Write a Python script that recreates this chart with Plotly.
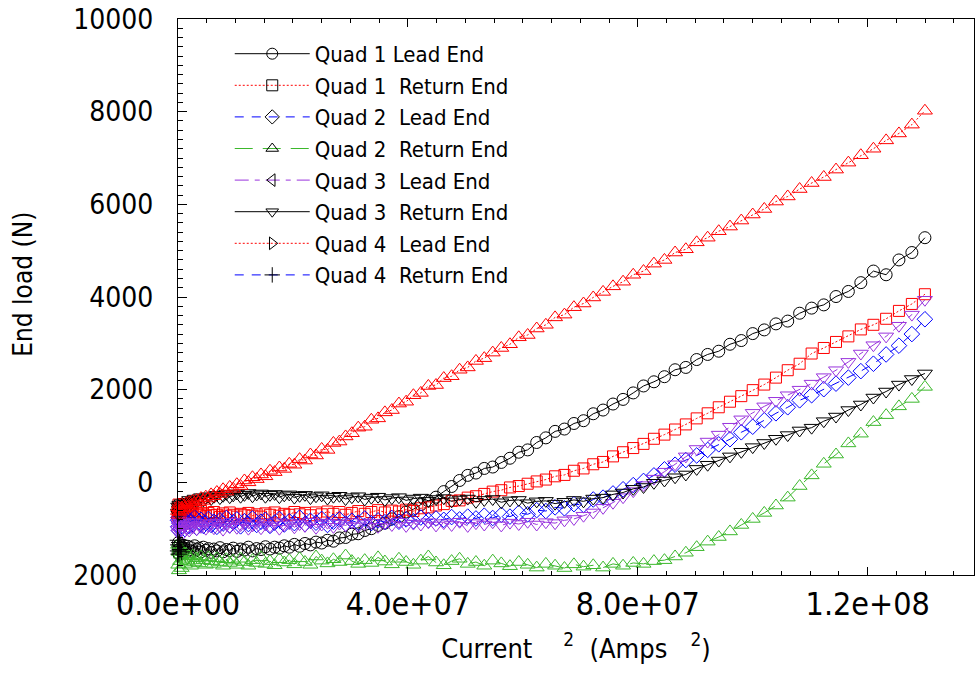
import plotly.graph_objects as go

# Current squared, in units of 1e6 A^2
current_sq_1e6 = [0.01,0.04,0.09,0.16,0.25,0.36,0.49,0.64,0.81,1.00,1.21,1.44,1.69,1.96,2.25,2.56,2.89,3.24,3.61,4.00,
    4.41,4.84,5.29,5.76,6.25,6.76,7.29,7.84,8.41,9.00,9.61,10.24,10.89,11.56,12.25,12.96,13.69,14.44,15.21,16.00,
    16.81,17.64,18.49,19.36,20.25,21.16,22.09,23.04,24.01,25.00,26.01,27.04,28.09,29.16,30.25,31.36,32.49,33.64,34.81,36.00,
    37.21,38.44,39.69,40.96,42.25,43.56,44.89,46.24,47.61,49.00,50.41,51.84,53.29,54.76,56.25,57.76,59.29,60.84,62.41,64.00,
    65.61,67.24,68.89,70.56,72.25,73.96,75.69,77.44,79.21,81.00,82.81,84.64,86.49,88.36,90.25,92.16,94.09,96.04,98.01,100.00,
    102.01,104.04,106.09,108.16,110.25,112.36,114.49,116.64,118.81,121.00,123.21,125.44,127.69,129.96]

quad1_lead = [-1380,-1520,-1300,-1450,-1560,-1350,-1470,-1400,-1530,-1360,
    -1440,-1500,-1380,-1460,-1410,-1490,-1370,-1450,-1420,-1500,
    -1400,-1470,-1430,-1510,-1440,-1480,-1410,-1500,-1450,-1470,
    -1420,-1490,-1440,-1460,-1400,-1480,-1430,-1450,-1390,-1440,
    -1400,-1420,-1370,-1400,-1340,-1380,-1320,-1350,-1290,-1310,
    -1250,-1270,-1200,-1190,-1120,-1110,-1040,-1000,-930,-880,
    -790,-740,-640,-580,-480,-400,-320,-200,-90,40,
    150,200,300,330,430,520,650,700,860,960,
    1100,1150,1270,1330,1480,1560,1690,1790,1930,2080,
    2170,2280,2430,2480,2650,2760,2830,2980,3060,3210,
    3290,3420,3480,3650,3760,3830,4010,4120,4310,4560,
    4480,4800,4960,5280]

quad1_return = [-560,-720,-480,-650,-780,-600,-700,-540,-660,-750,
    -610,-690,-640,-720,-600,-680,-740,-650,-700,-620,
    -690,-730,-660,-710,-640,-700,-750,-670,-720,-650,
    -700,-740,-680,-710,-660,-720,-690,-740,-670,-700,
    -650,-720,-680,-700,-640,-690,-660,-710,-650,-690,
    -630,-680,-640,-700,-660,-620,-680,-640,-600,-650,
    -610,-630,-590,-620,-560,-540,-500,-470,-400,-390,
    -330,-300,-250,-200,-170,-110,-80,-30,20,60,
    130,160,250,300,390,440,560,650,740,830,
    940,1030,1140,1250,1380,1490,1620,1740,1860,1990,
    2110,2260,2420,2560,2780,2900,3030,3150,3300,3400,
    3530,3700,3850,4060]

quad2_lead = [-820,-960,-760,-1040,-880,-720,-990,-850,-930,-780,
    -1010,-870,-800,-950,-840,-910,-760,-980,-860,-810,
    -940,-880,-790,-920,-850,-960,-820,-890,-770,-930,
    -860,-800,-950,-840,-900,-780,-920,-850,-810,-940,
    -870,-790,-910,-840,-880,-760,-900,-830,-870,-790,
    -920,-850,-800,-890,-830,-870,-780,-880,-820,-860,
    -770,-850,-800,-840,-760,-820,-780,-810,-750,-800,
    -740,-780,-720,-770,-700,-740,-660,-690,-600,-620,
    -540,-560,-470,-490,-370,-330,-240,-150,-60,30,
    150,280,380,480,580,700,820,930,1080,1200,
    1340,1490,1620,1770,1880,2010,2130,2260,2400,2560,
    2760,2950,3200,3520]

quad2_return = [-1350,-1780,-1500,-1900,-1420,-1700,-1560,-1850,-1480,-1650,
    -1760,-1550,-1690,-1600,-1800,-1580,-1720,-1640,-1750,-1600,
    -1680,-1780,-1620,-1700,-1760,-1640,-1720,-1800,-1660,-1740,
    -1690,-1780,-1650,-1720,-1800,-1680,-1740,-1620,-1760,-1700,
    -1790,-1660,-1730,-1680,-1770,-1640,-1720,-1780,-1600,-1690,
    -1750,-1660,-1720,-1580,-1700,-1760,-1680,-1740,-1620,-1710,
    -1770,-1650,-1720,-1780,-1690,-1600,-1730,-1790,-1700,-1650,
    -1760,-1720,-1800,-1690,-1750,-1810,-1720,-1780,-1840,-1760,
    -1800,-1850,-1770,-1820,-1790,-1840,-1760,-1800,-1740,-1760,
    -1700,-1680,-1600,-1520,-1400,-1280,-1180,-1060,-920,-790,
    -660,-500,-330,-80,150,400,600,840,1050,1300,
    1450,1640,1800,2060]

quad3_lead = [-1020,-880,-1100,-950,-830,-1060,-920,-1000,-860,-1080,
    -940,-990,-880,-1040,-930,-970,-860,-1010,-920,-960,
    -880,-1000,-940,-900,-990,-870,-950,-1020,-900,-960,
    -850,-980,-920,-880,-1000,-930,-870,-990,-910,-950,
    -860,-1000,-920,-880,-970,-900,-940,-850,-980,-910,
    -870,-960,-890,-930,-860,-950,-900,-870,-960,-880,
    -920,-850,-940,-890,-910,-860,-930,-880,-920,-850,
    -940,-880,-910,-860,-930,-870,-900,-850,-910,-860,
    -880,-820,-790,-720,-650,-550,-440,-320,-190,-60,
    80,230,390,560,720,880,1030,1200,1360,1500,
    1640,1760,1880,2000,2130,2270,2420,2600,2780,2960,
    3150,3380,3620,3940]

quad3_return = [-650,-520,-700,-580,-480,-620,-540,-450,-560,-480,
    -420,-510,-440,-380,-460,-400,-350,-420,-370,-320,
    -390,-340,-300,-360,-310,-270,-340,-290,-250,-320,
    -280,-240,-310,-270,-230,-300,-260,-240,-310,-270,
    -250,-320,-280,-260,-330,-290,-270,-340,-300,-280,
    -350,-310,-290,-360,-320,-300,-370,-330,-310,-380,
    -340,-320,-390,-350,-330,-400,-360,-340,-410,-370,
    -350,-420,-380,-360,-430,-390,-380,-450,-410,-400,
    -460,-420,-380,-410,-350,-330,-260,-220,-140,-100,
    -10,40,110,170,290,380,470,560,660,760,
    850,940,1020,1120,1180,1320,1420,1560,1680,1830,
    1960,2110,2230,2350]

quad4_lead = [-620,-540,-700,-480,-650,-560,-610,-470,-590,-500,
    -560,-450,-530,-430,-500,-400,-470,-380,-430,-340,
    -400,-310,-350,-260,-300,-210,-250,-150,-200,-100,
    -140,-40,-80,40,0,110,70,170,130,250,
    220,320,290,400,380,500,470,600,580,720,
    700,850,880,990,1060,1180,1200,1350,1380,1510,
    1560,1700,1740,1880,1930,2080,2100,2250,2290,2430,
    2480,2620,2680,2800,2900,2980,3130,3180,3320,3400,
    3560,3620,3780,3860,3990,4110,4230,4330,4480,4560,
    4720,4800,4960,5030,5180,5280,5420,5520,5650,5780,
    5900,6060,6170,6330,6460,6590,6750,6900,7060,7200,
    7380,7530,7720,8020]

quad4_return = [-1250,-1480,-1350,-1550,-1300,-1450,-1380,-1500]

legend_names = ["Quad 1 Lead End", "Quad 1\u00a0 Return End", "Quad 2\u00a0 Lead End",
                "Quad 2\u00a0 Return End", "Quad 3\u00a0 Lead End", "Quad 3\u00a0 Return End",
                "Quad 4\u00a0 Lead End", "Quad 4\u00a0 Return End"]

y_tick_vals = [-2000, 0, 2000, 4000, 6000, 8000, 10000]
y_tick_text = ["2000\u00a0\u00a0", "0", "2000", "4000", "6000", "8000", "10000"]
x_tick_vals = [0, 4e7, 8e7, 1.2e8]
x_tick_text = ["0.0e+00", "4.0e+07", "8.0e+07", "1.2e+08"]
x_mid_tick_vals = [2e7, 6e7, 1e8]

RED = "#ff0000"; BLUE = "#0000ff"; GREEN = "#3cb82c"; PURPLE = "#9933dd"; BLACK = "#000000"

x = [v * 1e6 for v in current_sq_1e6]

# (values, marker symbol in plot, colour, line colour, dash, marker size, legend symbol)
series = [
    (quad1_lead, "circle-open", BLACK, BLACK, "solid", 12, "circle-open"),
    (quad1_return, "square-open", RED, RED, "2px,2px", 11, "square-open"),
    (quad2_lead, "diamond-open", BLUE, BLUE, "9px,8px", 12, "diamond-open"),
    (quad2_return, "triangle-up-open", GREEN, GREEN, "18px,10px", 13, "triangle-up-open"),
    (quad3_lead, "triangle-down-open", PURPLE, PURPLE, "14px,6px,5px,6px", 13, "triangle-left-open"),
    (quad3_return, "triangle-down-open", BLACK, BLACK, "solid", 13, "triangle-down-open"),
    (quad4_lead, "triangle-up-open", RED, RED, "2px,2px", 13, "triangle-right-open"),
    (quad4_return, "cross-thin-open", BLACK, BLUE, "9px,8px", 12, "cross-thin-open"),
]

fig = go.Figure()
for (vals, sym, col, lcol, dash, size, lsym), name in zip(series, legend_names):
    fig.add_trace(go.Scatter(
        x=x[:len(vals)], y=vals, mode="lines+markers", name=name, showlegend=False,
        cliponaxis=False,
        line=dict(color=lcol, width=1, dash=dash),
        marker=dict(symbol=sym, size=size, color=col, line=dict(width=1, color=col)),
    ))
for (vals, sym, col, lcol, dash, size, lsym), name in zip(series, legend_names):
    fig.add_trace(go.Scatter(
        x=[None], y=[None], mode="lines+markers", name=name, showlegend=True,
        line=dict(color=lcol, width=1, dash=dash),
        marker=dict(symbol=lsym, size=11, color=BLACK, line=dict(width=1, color=BLACK)),
    ))

FONT = "DejaVu Sans Condensed, DejaVu Sans, sans-serif"

fig.update_layout(
    width=976, height=673,
    margin=dict(l=178, r=2, t=19, b=98, pad=0),
    paper_bgcolor="white", plot_bgcolor="white",
    font=dict(family=FONT, color="black", size=24),
    showlegend=True,
    legend=dict(x=0.065, y=0.975, xanchor="left", yanchor="top",
                bgcolor="rgba(0,0,0,0)", borderwidth=0,
                font=dict(family=FONT, size=22, color="black"),
                itemwidth=75, tracegroupgap=0),
    xaxis=dict(range=[0, 1.385e8], tickmode="array", tickvals=x_tick_vals, ticktext=x_tick_text,
               ticks="inside", ticklen=8, tickwidth=1, tickcolor="black",
               showline=True, linecolor="black", linewidth=1, mirror="ticks",
               showgrid=False, zeroline=False, ticklabeloverflow="allow",
               tickfont=dict(family=FONT, size=32, color="black"), ticklabelstandoff=1,
               minor=dict(dtick=5e6, ticks="inside", ticklen=4, tickcolor="black", showgrid=False),
               title=dict(text="Current\u00a0\u00a0\u00a0\u00a0<sup>2</sup>\u00a0\u00a0(Amps\u00a0\u00a0\u00a0<sup>2</sup>)",
                          font=dict(family=FONT, size=27, color="black"), standoff=16)),
    xaxis2=dict(range=[0, 1.385e8], overlaying="x", anchor="y", side="bottom",
                tickmode="array", tickvals=x_mid_tick_vals, showticklabels=False,
                ticks="inside", ticklen=8, tickwidth=1, tickcolor="black", mirror="ticks",
                showline=False, showgrid=False, zeroline=False),
    yaxis=dict(range=[-2000, 10000], tickmode="array", tickvals=y_tick_vals, ticktext=y_tick_text,
               ticks="inside", ticklen=9, tickwidth=1, tickcolor="black",
               showline=True, linecolor="black", linewidth=1, mirror=True,
               showgrid=False, zeroline=False, ticklabeloverflow="allow",
               tickfont=dict(family=FONT, size=28, color="black"), ticklabelstandoff=18,
               minor=dict(dtick=200, ticks="inside", ticklen=5, tickcolor="black", showgrid=False)),
    yaxis2=dict(range=[-2000, 10000], overlaying="y", anchor="x", side="right",
                tickmode="array", tickvals=y_tick_vals, showticklabels=False,
                ticks="inside", ticklen=9, tickwidth=1, tickcolor="black",
                showline=False, showgrid=False, zeroline=False),
    annotations=[dict(text="End load (N)", xref="paper", yref="paper", x=-0.194, y=0.523,
                      xanchor="center", yanchor="middle", textangle=-90, showarrow=False,
                      font=dict(family=FONT, size=26, color="black"))],
)

fig.write_html("out.html")
